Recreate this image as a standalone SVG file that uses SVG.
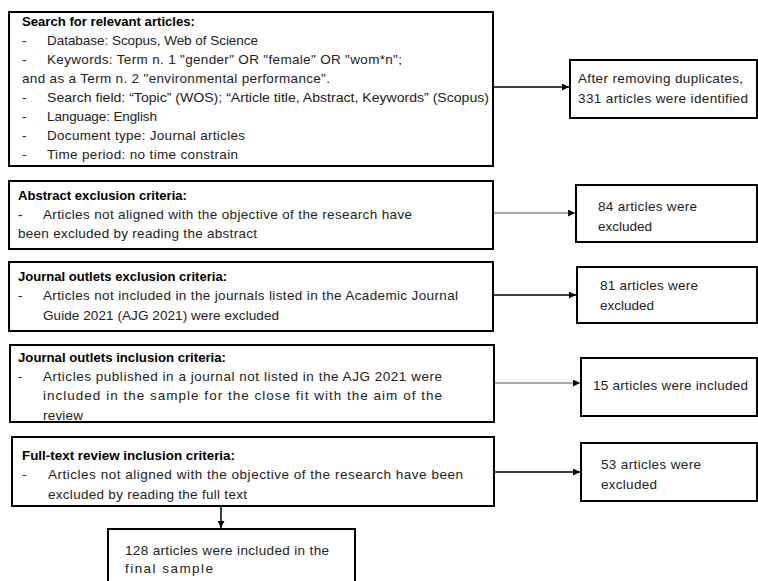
<svg xmlns="http://www.w3.org/2000/svg" width="758" height="581" viewBox="0 0 758 581">
<style>
.box{fill:#fff;stroke:#000;stroke-width:2}
.t{font-family:"Liberation Sans",Arial,sans-serif;font-size:13.5px;fill:#222}
.b{font-weight:bold;fill:#000}
.c{stroke:#000;stroke-width:1.5;fill:none}
.g{stroke:#555;stroke-width:1;fill:none}
</style>
<defs>
<marker id="ah" viewBox="0 0 10 10" refX="10" refY="5" markerWidth="7" markerHeight="7" markerUnits="userSpaceOnUse" orient="auto">
<path d="M0,0 L10,5 L0,10 z" fill="#000"/>
</marker>
</defs>
<g id="connectors">
<line class="c" x1="493" y1="87" x2="569" y2="87" marker-end="url(#ah)"/>
<line class="g" x1="493" y1="213" x2="575" y2="213" marker-end="url(#ah)"/>
<line class="c" x1="493" y1="295" x2="576" y2="295" marker-end="url(#ah)"/>
<line class="g" x1="494" y1="383" x2="580" y2="383" marker-end="url(#ah)"/>
<line class="c" x1="494" y1="472" x2="580" y2="472" marker-end="url(#ah)"/>
<line class="c" x1="221" y1="506" x2="221" y2="528" marker-end="url(#ah)"/>
</g>
<g id="search">
<rect class="box" x="9" y="12" width="484" height="154"/>
<text class="t b" x="22" y="26" textLength="173" lengthAdjust="spacingAndGlyphs">Search for relevant articles:</text>
<text class="t" x="22" y="45">-</text><text class="t" x="47" y="45" textLength="211" lengthAdjust="spacing">Database: Scopus, Web of Science</text>
<text class="t" x="22" y="64">-</text><text class="t" x="47" y="64" textLength="355" lengthAdjust="spacing">Keywords: Term n. 1 "gender" OR "female" OR "wom*n";</text>
<text class="t" x="22" y="83" textLength="308" lengthAdjust="spacing">and as a Term n. 2 "environmental performance".</text>
<text class="t" x="22" y="102">-</text><text class="t" x="47" y="102" textLength="442" lengthAdjust="spacingAndGlyphs">Search field: “Topic” (WOS); “Article title, Abstract, Keywords” (Scopus)</text>
<text class="t" x="22" y="121">-</text><text class="t" x="47" y="121" textLength="110" lengthAdjust="spacing">Language: English</text>
<text class="t" x="22" y="140">-</text><text class="t" x="47" y="140" textLength="198" lengthAdjust="spacing">Document type: Journal articles</text>
<text class="t" x="22" y="159">-</text><text class="t" x="47" y="159" textLength="191" lengthAdjust="spacing">Time period: no time constrain</text>
</g>
<g id="duplicates">
<rect class="box" x="570" y="60" width="187" height="58"/>
<text class="t" x="578" y="83" textLength="165" lengthAdjust="spacing">After removing duplicates,</text>
<text class="t" x="578" y="103" textLength="170" lengthAdjust="spacing">331 articles were identified</text>
</g>
<g id="abstract">
<rect class="box" x="9" y="181" width="484" height="68"/>
<text class="t b" x="18" y="200" textLength="169" lengthAdjust="spacingAndGlyphs">Abstract exclusion criteria:</text>
<text class="t" x="18" y="219">-</text><text class="t" x="43" y="219" textLength="369" lengthAdjust="spacing">Articles not aligned with the objective of the research have</text>
<text class="t" x="18" y="238" textLength="239" lengthAdjust="spacing">been excluded by reading the abstract</text>
</g>
<g id="excl84">
<rect class="box" x="576" y="185" width="181" height="57"/>
<text class="t" x="598" y="211" textLength="99" lengthAdjust="spacing">84 articles were</text>
<text class="t" x="598" y="231" textLength="54" lengthAdjust="spacing">excluded</text>
</g>
<g id="journalexcl">
<rect class="box" x="9" y="262" width="484" height="69"/>
<text class="t b" x="18" y="281" textLength="209" lengthAdjust="spacingAndGlyphs">Journal outlets exclusion criteria:</text>
<text class="t" x="18" y="300">-</text><text class="t" x="43" y="300" textLength="415" lengthAdjust="spacing">Articles not included in the journals listed in the Academic Journal</text>
<text class="t" x="43" y="320" textLength="236" lengthAdjust="spacing">Guide 2021 (AJG 2021) were excluded</text>
</g>
<g id="excl81">
<rect class="box" x="577" y="267" width="180" height="56"/>
<text class="t" x="600" y="290" textLength="98" lengthAdjust="spacing">81 articles were</text>
<text class="t" x="600" y="310" textLength="54" lengthAdjust="spacing">excluded</text>
</g>
<g id="journalincl">
<rect class="box" x="10" y="345" width="484" height="77"/>
<text class="t b" x="18" y="362" textLength="208" lengthAdjust="spacingAndGlyphs">Journal outlets inclusion criteria:</text>
<text class="t" x="18" y="381">-</text><text class="t" x="43" y="381" textLength="399" lengthAdjust="spacing">Articles published in a journal not listed in the AJG 2021 were</text>
<text class="t" x="43" y="400" textLength="399" lengthAdjust="spacing">included in  the sample for the close fit with the aim of the</text>
<text class="t" x="43" y="420" textLength="40" lengthAdjust="spacing">review</text>
</g>
<g id="incl15">
<rect class="box" x="581" y="358" width="176" height="58"/>
<text class="t" x="593" y="390" textLength="155" lengthAdjust="spacing">15 articles were included</text>
</g>
<g id="fulltext">
<rect class="box" x="12" y="437" width="482" height="69"/>
<text class="t b" x="22" y="460" textLength="213" lengthAdjust="spacingAndGlyphs">Full-text review inclusion criteria:</text>
<text class="t" x="22" y="479">-</text><text class="t" x="48" y="479" textLength="415" lengthAdjust="spacing">Articles not aligned with the objective of the research have been</text>
<text class="t" x="48" y="499" textLength="199" lengthAdjust="spacing">excluded by reading the full text</text>
</g>
<g id="excl53">
<rect class="box" x="581" y="443" width="176" height="58"/>
<text class="t" x="601" y="469" textLength="100" lengthAdjust="spacing">53 articles were</text>
<text class="t" x="601" y="489" textLength="56" lengthAdjust="spacing">excluded</text>
</g>
<g id="final">
<rect class="box" x="108" y="529" width="247" height="60"/>
<text class="t" x="125" y="555" textLength="204" lengthAdjust="spacing">128 articles were included in the</text>
<text class="t" x="125" y="573" textLength="88" lengthAdjust="spacing">final sample</text>
</g>
</svg>
